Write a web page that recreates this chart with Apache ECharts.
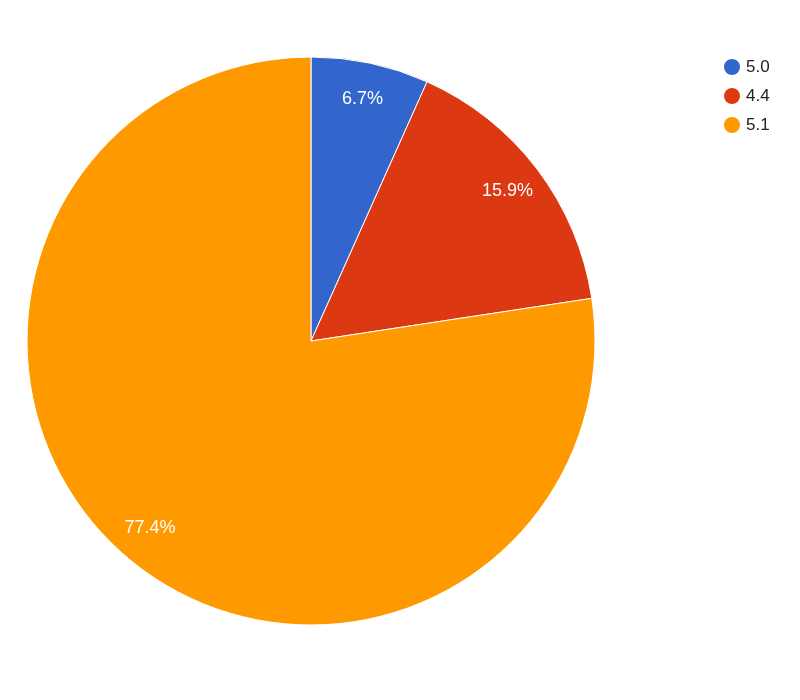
<!DOCTYPE html>
<html><head><meta charset="utf-8">
<script src="https://cdn.jsdelivr.net/npm/echarts@6/dist/echarts.min.js"></script>
<style>html,body{margin:0;padding:0;background:#fff}#c{width:800px;height:700px}</style>
</head><body><div id="c"></div>
<script>
const categories = ['5.0', '4.4', '5.1'];
const values = [6.7, 15.9, 77.4];
const colors = ['#3366cc', '#dc3912', '#ff9900'];

const data = categories.map((c, i) => ({ name: c, value: values[i] }));
const chart = echarts.init(document.getElementById('c'), null, { renderer: 'canvas' });
const center = [311, 341];
const R = 284;
chart.setOption({
  color: colors,
  animation: false,
  legend: {
    orient: 'vertical', left: 717, top: 52,
    icon: 'circle', itemWidth: 18, itemHeight: 18, itemGap: 9,
    textStyle: { fontFamily: 'Liberation Sans, Arial', fontSize: 17, color: '#222' },
    data: categories
  },
  series: [
    {
      type: 'pie', center: center, radius: [0, R], startAngle: 90, clockwise: true,
      data: data, label: { show: false }, labelLine: { show: false },
      itemStyle: { borderColor: '#fff', borderWidth: 1 },
      emphasis: { disabled: true }
    },
    {
      type: 'pie', center: center, radius: [204, R], startAngle: 90, clockwise: true,
      data: data, silent: true, legendHoverLink: false,
      itemStyle: { color: 'rgba(0,0,0,0)', borderWidth: 0 },
      label: {
        show: true, position: 'inside', color: '#fff',
        fontFamily: 'Liberation Sans, Arial', fontSize: 18,
        formatter: p => p.value.toFixed(1) + '%'
      },
      labelLine: { show: false },
      emphasis: { disabled: true }
    }
  ]
});
</script></body></html>
